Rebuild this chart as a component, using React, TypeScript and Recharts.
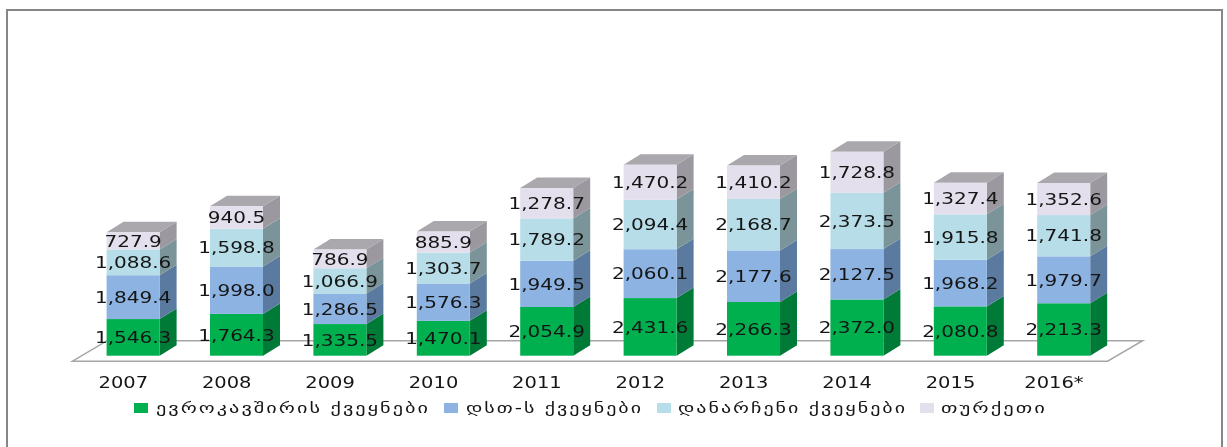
import { BarChart, Bar, XAxis, YAxis, Legend, LabelList, ReferenceArea } from 'recharts'

const categories = ['2007', '2008', '2009', '2010', '2011', '2012', '2013', '2014', '2015', '2016*']
const euValues = [1546.3, 1764.3, 1335.5, 1470.1, 2054.9, 2431.6, 2266.3, 2372.0, 2080.8, 2213.3]
const cisValues = [1849.4, 1998.0, 1286.5, 1576.3, 1949.5, 2060.1, 2177.6, 2127.5, 1968.2, 1979.7]
const otherValues = [1088.6, 1598.8, 1066.9, 1303.7, 1789.2, 2094.4, 2168.7, 2373.5, 1915.8, 1741.8]
const turkeyValues = [727.9, 940.5, 786.9, 885.9, 1278.7, 1470.2, 1410.2, 1728.8, 1327.4, 1352.6]

const data = categories.map((year, i) => ({
  year,
  eu: euValues[i],
  cis: cisValues[i],
  other: otherValues[i],
  turkey: turkeyValues[i],
}))

const DEPTH_X = 17
const DEPTH_Y = 10.5
const FONT = '"DejaVu Sans", sans-serif'
const TEXT_COLOR = '#151515'
const softText = { filter: 'blur(0.35px)' }

// front face, slanted side, and a lid on the last series only
function box(sideColor: string, topColor?: string) {
  return (props: any) => {
    const { x, y, width, height, fill } = props
    const r = x + width
    const b = y + height
    return (
      <g>
        <path d={`M${r},${y}L${r + DEPTH_X},${y - DEPTH_Y}L${r + DEPTH_X},${b - DEPTH_Y}L${r},${b}Z`} fill={sideColor} />
        {topColor && (
          <path d={`M${x},${y}L${x + DEPTH_X},${y - DEPTH_Y}L${r + DEPTH_X},${y - DEPTH_Y}L${r},${y}Z`} fill={topColor} />
        )}
        <rect x={x} y={y} width={width} height={height} fill={fill} />
      </g>
    )
  }
}

function Floor(props: any) {
  const { x, y, width, height } = props
  const r = x + width
  const base = y + height
  return (
    <path
      d={`M${x - 9},${base + 5.5}L${x + 25.5},${base - 15}L${r + 27},${base - 15}L${r - 8},${base + 5.5}Z`}
      fill="#fff"
      stroke="#a6a6a6"
      strokeWidth={1.5}
    />
  )
}

function ValueLabel(props: any) {
  const { x, y, width, height, value } = props
  const text = Number(value).toLocaleString('en-US', { minimumFractionDigits: 1, maximumFractionDigits: 1 })
  return (
    <text
      transform={`translate(${x + width / 2},${y + height / 2}) scale(1.25,1)`}
      textAnchor="middle"
      dominantBaseline="central"
      fontFamily={FONT}
      fontSize={16}
      fill={TEXT_COLOR}
      style={softText}
    >
      {text}
    </text>
  )
}

function YearTick(props: any) {
  const { x, y, payload } = props
  return (
    <text
      transform={`translate(${x - 10},${y + 24}) scale(1.3,1)`}
      textAnchor="middle"
      fontFamily={FONT}
      fontSize={15}
      fill={TEXT_COLOR}
      style={softText}
    >
      {payload.value}
    </text>
  )
}

const legendSlots = [
  { swatch: 134, text: 156, width: 274 },
  { swatch: 444, text: 466, width: 177 },
  { swatch: 657, text: 678, width: 229 },
  { swatch: 920, text: 941, width: 106 },
]

function LegendRow(props: any) {
  const items = props.payload || []
  return (
    <svg width={1227} height={24} style={{ display: 'block' }}>
      {items.map((item: any, i: number) => (
        <g key={item.value}>
          <rect x={legendSlots[i].swatch} y={7} width={14} height={10} fill={item.color} />
          <text
            x={legendSlots[i].text}
            y={17}
            fontFamily={FONT}
            fontSize={15}
            letterSpacing={1.5}
            fill={TEXT_COLOR}
            textLength={legendSlots[i].width}
            lengthAdjust="spacingAndGlyphs"
            style={softText}
          >
            {item.value}
          </text>
        </g>
      ))}
    </svg>
  )
}

export default function App() {
  return (
    <div style={{ position: 'absolute', left: 0, top: 0, width: 1227, height: 447, background: '#fff', overflow: 'hidden' }}>
      <div
        style={{
          position: 'absolute',
          left: 6,
          top: 9,
          width: 1213,
          height: 438,
          borderLeft: '2px solid #868686',
          borderTop: '2px solid #868686',
          borderRight: '2px solid #868686',
        }}
      />
      <div style={{ position: 'absolute', left: 0, top: 0 }}>
        <BarChart
          width={1227}
          height={447}
          data={data}
          barSize={53}
          margin={{ left: 81.6, right: 111.4, top: 118.7, bottom: 27.3 }}
        >
          <YAxis hide domain={[0, 10000]} />
          <XAxis dataKey="year" height={40} axisLine={false} tickLine={false} tick={<YearTick />} interval={0} />
          <ReferenceArea y1={0} y2={1} ifOverflow="visible" shape={<Floor />} />
          <Legend
            verticalAlign="bottom"
            height={24}
            itemSorter={null}
            content={<LegendRow />}
            wrapperStyle={{ left: 0, width: 1227 }}
          />
          <Bar dataKey="eu" name="ევროკავშირის ქვეყნები" stackId="a" fill="#00b04f" shape={box('#007a37')} isAnimationActive={false}>
            <LabelList dataKey="eu" content={<ValueLabel />} />
          </Bar>
          <Bar dataKey="cis" name="დსთ-ს ქვეყნები" stackId="a" fill="#8db3e2" shape={box('#5a7a9f')} isAnimationActive={false}>
            <LabelList dataKey="cis" content={<ValueLabel />} />
          </Bar>
          <Bar dataKey="other" name="დანარჩენი ქვეყნები" stackId="a" fill="#b7dee8" shape={box('#7a9499')} isAnimationActive={false}>
            <LabelList dataKey="other" content={<ValueLabel />} />
          </Bar>
          <Bar dataKey="turkey" name="თურქეთი" stackId="a" fill="#e4dfec" shape={box('#9c98a0', '#aaa7ad')} isAnimationActive={false}>
            <LabelList dataKey="turkey" content={<ValueLabel />} />
          </Bar>
        </BarChart>
      </div>
    </div>
  )
}
